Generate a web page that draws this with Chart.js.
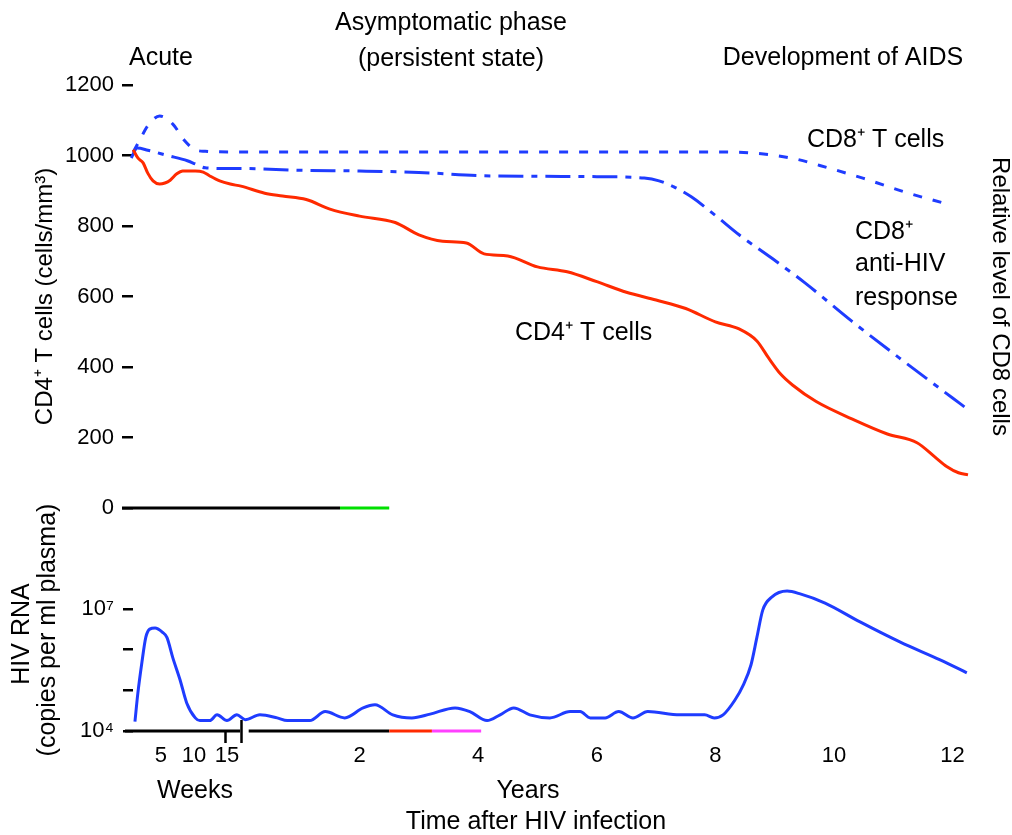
<!DOCTYPE html>
<html>
<head>
<meta charset="utf-8">
<script src="https://cdn.jsdelivr.net/npm/chart.js@4.4.1/dist/chart.umd.min.js"></script>
<style>
  html, body { margin: 0; padding: 0; background: #fff; }
  #wrap { position: relative; width: 1012px; height: 835px; }
  #wrap canvas { position: absolute; left: 0; top: 0; }
</style>
</head>
<body>
<div id="wrap">
  <canvas id="cells" width="1012" height="835"></canvas>
  <canvas id="virus" width="1012" height="835"></canvas>
</div>
<script>
// time axis: the first weeks are stretched out, then years restart at the break
const weekTicks = [5, 10, 15]
const yearTicks = [2, 4, 6, 8, 10, 12]

const cd4Ticks = [0, 200, 400, 600, 800, 1000, 1200]
const rnaTicks = [1e4, 1e5, 1e6, 1e7]
const rnaTickLabels = ["10⁴", "", "", "10⁷"]

// CD4+ T cells (cells/mm3)
const cd4Weeks = [0.8, 1.5, 2.3, 3, 3.8, 4.8, 5.6, 6.4, 7.4, 8.3, 10.2, 11.4, 12.4, 13.9, 15.5]
const cd4WeekCounts = [1016, 993, 979, 950, 928, 919, 922, 930, 948, 956, 956, 953, 942, 928, 919]
const cd4Years = [0, 0.4, 0.7, 1.1, 1.5, 2.0, 2.6, 3.0, 3.4, 3.8, 4.1, 4.5, 5.0, 5.5, 6.0, 6.5, 7.0, 7.5, 8.0, 8.4,
  8.7, 8.9, 9.1, 9.3, 9.7, 10.3, 10.9, 11.4, 11.7, 11.9, 12.1, 12.26]
const cd4YearCounts = [913, 893, 885, 875, 848, 828, 810, 775, 757, 752, 721, 715, 684, 670, 642, 612, 590, 566, 528, 508,
  474, 425, 380, 349, 302, 253, 210, 185, 145, 118, 100, 94]

// CD8+ T cells (relative level, drawn on the same scale)
const cd8Weeks = [0.8, 1.8, 3.0, 4.8, 6.8, 8.5, 10.2, 11.7, 15.5]
const cd8WeekLevels = [1010, 1044, 1084, 1112, 1089, 1044, 1016, 1012, 1010]
const cd8Years = [0, 2, 4, 6, 8, 8.7, 9.3, 9.9, 10.5, 11.2, 11.85]
const cd8YearLevels = [1010, 1010, 1010, 1010, 1010, 1006, 992, 965, 935, 896, 865]

// CD8+ anti-HIV response
const respWeeks = [0.5, 1.4, 3, 6, 9, 10.2, 11.7, 15.5]
const respWeekLevels = [993, 1021, 1015, 1000, 985, 976, 965, 963]
const respYears = [0, 1, 2, 3, 4, 5, 6, 6.8, 7.05, 7.3, 7.6, 8.0, 8.4, 8.9, 9.5, 10.3, 11.1, 12.0, 12.2]
const respYearLevels = [963, 958, 956, 952, 943, 941, 940, 936, 928, 911, 882, 830, 775, 715, 640, 530, 426, 312, 287]

// HIV RNA (copies per ml plasma)
const rnaWeeks = [1.06, 1.5, 2.1, 2.7, 3.3, 4.1, 5.2, 5.9, 6.8, 7.9, 8.9, 10.2, 10.9, 12.4, 13.5, 15.0, 16.5]
const rnaWeekCopies = [1.7e4, 8.5e4, 4.7e5, 2.0e6, 3.2e6, 3.4e6, 2.7e6, 2.0e6, 6.3e5, 1.8e5, 4.9e4, 2.1e4, 1.8e4, 1.8e4, 2.5e4, 1.8e4, 2.5e4]
const rnaYears = [0.07, 0.32, 0.61, 0.78, 1.16, 1.42, 1.75, 2.06, 2.26, 2.56, 2.88, 3.19, 3.61, 3.86, 4.15, 4.37, 4.6, 4.87, 5.21, 5.55,
  5.72, 5.89, 6.14, 6.37, 6.61, 6.86, 7.4, 7.82, 7.98, 8.13, 8.33, 8.47, 8.6, 8.7, 8.8, 8.95, 9.21, 9.43, 9.85, 10.44,
  11.11, 11.79, 12.24]
const rnaYearCopies = [1.9e4, 2.5e4, 2.1e4, 1.8e4, 1.8e4, 3.0e4, 2.1e4, 3.7e4, 4.4e4, 2.5e4, 2.1e4, 2.6e4, 3.7e4, 3.0e4, 1.8e4, 2.5e4, 3.7e4, 2.5e4, 2.1e4, 3.0e4,
  3.0e4, 2.1e4, 2.1e4, 3.0e4, 2.1e4, 3.0e4, 2.5e4, 2.5e4, 2.1e4, 2.5e4, 5.8e4, 1.35e5, 4.2e5, 2.0e6, 9.5e6, 1.95e7, 2.75e7, 2.35e7, 1.4e7, 4.8e6,
  1.55e6, 5.6e5, 2.7e5]

// x axis runs in years; the weeks section sits left of year 0
const WEEK = 6.6 / 59.3
const wk = w => -1.906 + w * WEEK
const yr = y => y
const X_MIN = -1.821
const X_MAX = 12.395

const series = (wks, wv, yrs, yv) =>
  wks.map((w, i) => ({ x: wk(w), y: wv[i] })).concat(yrs.map((y, i) => ({ x: yr(y), y: yv[i] })))

const xTickValues = weekTicks.map(wk).concat(yearTicks.map(yr))
const xTickLabels = weekTicks.concat(yearTicks).map(String)

const FONT = "'Liberation Sans', Arial, Helvetica, sans-serif"
Chart.defaults.font.family = FONT
Chart.defaults.color = "#000"

const RED = "#ff2a00"
const BLUE = "#1f3cff"

const freeLabels = [
  { text: "Asymptomatic phase", x: 451, y: 23, align: "center" },
  { text: "(persistent state)", x: 451, y: 59, align: "center" },
  { text: "Acute", x: 161, y: 58, align: "center" },
  { text: "Development of AIDS", x: 843, y: 58, align: "center" },
  { text: "CD8⁺ T cells", x: 807, y: 140, align: "left" },
  { text: "CD8⁺", x: 855, y: 232, align: "left" },
  { text: "anti-HIV", x: 855, y: 264, align: "left" },
  { text: "response", x: 855, y: 298, align: "left" },
  { text: "CD4⁺ T cells", x: 515, y: 333, align: "left" },
  { text: "Weeks", x: 195, y: 791, align: "center" },
  { text: "Years", x: 528, y: 791, align: "center" },
  { text: "Time after HIV infection", x: 536, y: 822, align: "center" },
  { text: "HIV RNA", x: 22, y: 634, align: "center", rotate: true },
  { text: "(copies per ml plasma)", x: 48, y: 630, align: "center", rotate: true }
]

const textPlugin = {
  id: "freeText",
  afterDraw(chart) {
    const ctx = chart.ctx
    ctx.save()
    ctx.fillStyle = "#000"
    ctx.font = "25px " + FONT
    ctx.textBaseline = "middle"
    for (const l of freeLabels) {
      ctx.save()
      ctx.translate(l.x, l.y)
      if (l.rotate) ctx.rotate(-Math.PI / 2)
      ctx.textAlign = l.align
      ctx.fillText(l.text, 0, 0)
      ctx.restore()
    }
    ctx.restore()
  }
}

// baseline pieces and break marks, in axis units
const axisPlugin = {
  id: "axisLines",
  beforeDatasetsDraw(chart, args, opts) {
    const { ctx, scales: { x, y } } = chart
    const py = y.getPixelForValue(opts.level)
    ctx.save()
    ctx.lineWidth = 3
    for (const p of opts.parts) {
      ctx.strokeStyle = p.color
      ctx.beginPath()
      ctx.moveTo(x.getPixelForValue(p.from), py)
      ctx.lineTo(x.getPixelForValue(p.to), py)
      ctx.stroke()
    }
    ctx.strokeStyle = "#000"
    ctx.lineWidth = 2.5
    for (const m of opts.marks || []) {
      const px = Math.round(x.getPixelForValue(m.at)) + 0.5
      ctx.beginPath()
      ctx.moveTo(px, py - m.up)
      ctx.lineTo(px, py + m.down)
      ctx.stroke()
    }
    ctx.restore()
  }
}

const line = (label, data, color, dash) => ({
  label, data,
  borderColor: color,
  borderWidth: 3,
  borderDash: dash || [],
  pointRadius: 0,
  cubicInterpolationMode: "monotone",
  fill: false,
  clip: 8
})

const leftAxisWidth = s => { s.width = 133 }

new Chart(document.getElementById("cells"), {
  type: "line",
  data: {
    datasets: [
      line("CD4+ T cells", series(cd4Weeks, cd4WeekCounts, cd4Years, cd4YearCounts), RED),
      line("CD8+ T cells", series(cd8Weeks, cd8WeekLevels, cd8Years, cd8YearLevels), BLUE, [9, 11]),
      line("CD8+ anti-HIV response", series(respWeeks, respWeekLevels, respYears, respYearLevels), BLUE, [25, 8, 6, 8])
    ]
  },
  options: {
    responsive: false,
    animation: false,
    devicePixelRatio: 1,
    layout: { padding: { top: 85, bottom: 327, left: 0, right: 0 } },
    plugins: {
      legend: { display: false },
      tooltip: { enabled: false },
      axisLines: {
        level: 0,
        parts: [
          { from: wk(-0.9), to: yr(1.67), color: "#000" },
          { from: yr(1.67), to: yr(2.5), color: "#00e000" }
        ]
      }
    },
    scales: {
      x: { type: "linear", min: X_MIN, max: X_MAX, display: false },
      y: {
        min: 0, max: 1200,
        afterFit: leftAxisWidth,
        afterBuildTicks: s => { s.ticks = cd4Ticks.map(v => ({ value: v })) },
        grid: { drawOnChartArea: false, drawTicks: true, tickLength: 11, color: "#000", lineWidth: 2.5 },
        border: { display: false },
        ticks: { color: "#000", font: { size: 22 }, padding: 8, callback: v => String(v) },
        title: {
          display: true, text: "CD4⁺ T cells (cells/mm³)", color: "#000",
          font: { size: 24 }, padding: { top: 31, bottom: 0 }
        }
      },
      y2: {
        position: "right", min: 0, max: 1200,
        afterFit: s => { s.width = 36 },
        grid: { display: false },
        border: { display: false },
        ticks: { display: false },
        title: {
          display: true, text: "Relative level of CD8 cells", color: "#000",
          font: { size: 24, lineHeight: 1 }, padding: { top: 0, bottom: 0 }
        }
      }
    }
  },
  plugins: [axisPlugin, textPlugin]
})

new Chart(document.getElementById("virus"), {
  type: "line",
  data: {
    datasets: [
      line("HIV RNA", series(rnaWeeks, rnaWeekCopies, rnaYears, rnaYearCopies), BLUE)
    ]
  },
  options: {
    responsive: false,
    animation: false,
    devicePixelRatio: 1,
    layout: { padding: { top: 580, bottom: 0, left: 0, right: 36 } },
    plugins: {
      legend: { display: false },
      tooltip: { enabled: false },
      axisLines: {
        level: 1e4,
        parts: [
          { from: wk(-0.45), to: wk(17), color: "#000" },
          { from: yr(0.13), to: yr(2.5), color: "#000" },
          { from: yr(2.5), to: yr(3.22), color: RED },
          { from: yr(3.22), to: yr(4.05), color: "#ff40ff" }
        ],
        marks: [
          { at: wk(14.7), up: 0, down: 12 },
          { at: yr(0), up: 11, down: 12 }
        ]
      }
    },
    scales: {
      x: {
        type: "linear", min: X_MIN, max: X_MAX,
        afterFit: s => { s.height = 104 },
        afterBuildTicks: s => { s.ticks = xTickValues.map(v => ({ value: v })) },
        grid: { display: false, drawTicks: false },
        border: { display: false },
        ticks: {
          color: "#000", font: { size: 22 }, padding: 12,
          autoSkip: false, maxRotation: 0,
          callback: (v, i) => xTickLabels[i]
        }
      },
      y: {
        type: "logarithmic", min: 1e4, max: 5.16e7,
        afterFit: leftAxisWidth,
        afterBuildTicks: s => { s.ticks = rnaTicks.map(v => ({ value: v })) },
        grid: { drawOnChartArea: false, drawTicks: true, tickLength: 10, color: "#000", lineWidth: 2.5 },
        border: { display: false },
        ticks: { color: "#000", font: { size: 22 }, padding: 9, callback: (v, i) => rnaTickLabels[i] }
      }
    }
  },
  plugins: [axisPlugin]
})
</script>
</body>
</html>
